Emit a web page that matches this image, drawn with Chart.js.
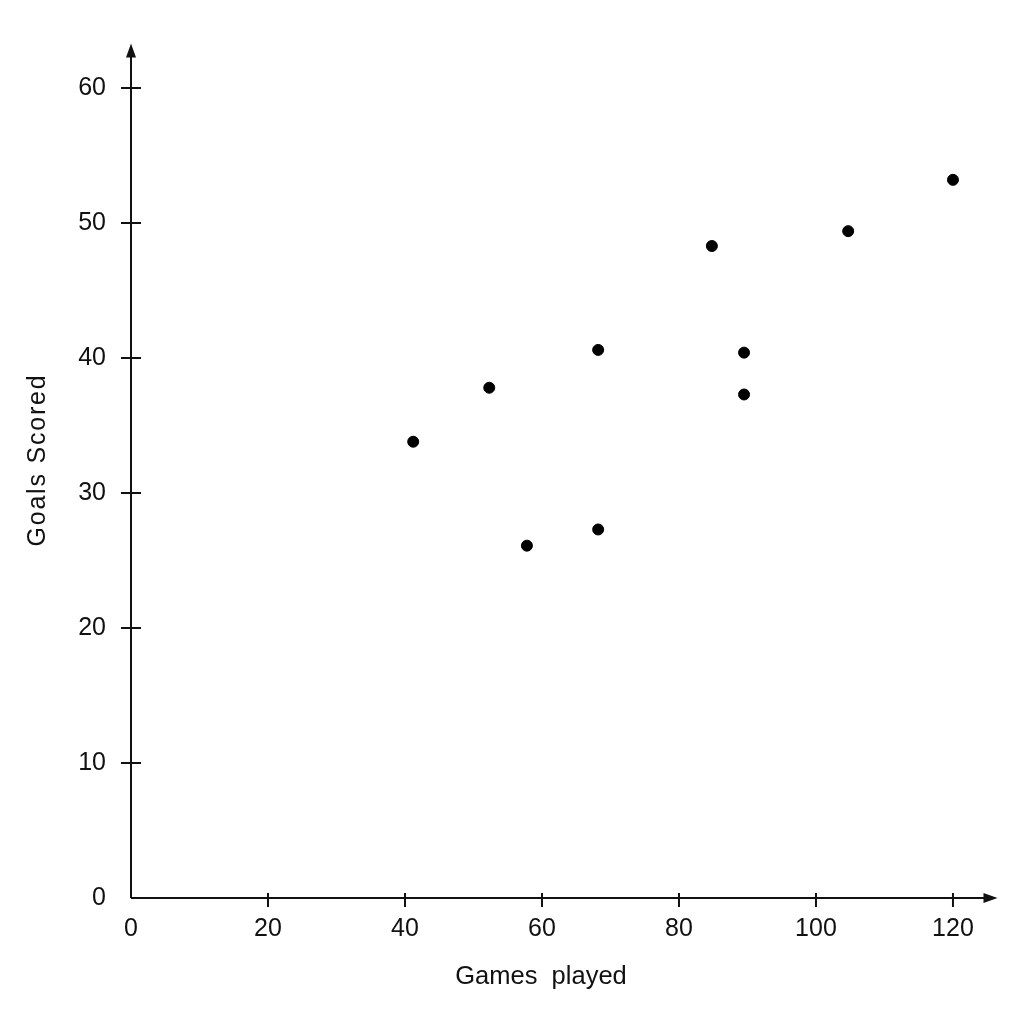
<!DOCTYPE html>
<html>
<head>
<meta charset="utf-8">
<script src="https://cdn.jsdelivr.net/npm/chart.js@4/dist/chart.umd.min.js"></script>
<style>
  html, body { margin: 0; padding: 0; background: #fff; }
  #wrap { width: 1024px; height: 1024px; }
</style>
</head>
<body>
<div id="wrap"><canvas id="c" width="1024" height="1024"></canvas></div>
<script>
// data
const gamesPlayed = [41.2, 52.3, 57.8, 68.2, 68.2, 84.8, 89.5, 89.5, 104.7, 120];
const goalsScored = [33.8, 37.8, 26.1, 40.6, 27.3, 48.3, 40.4, 37.3, 49.4, 53.2];
const xTicks = [0, 20, 40, 60, 80, 100, 120];
const yTicks = [0, 10, 20, 30, 40, 50, 60];
const xTitle = "Games  played";
const yTitle = "Goals Scored";

const FONT = "'Liberation Sans', Arial, sans-serif";

// axes with arrow heads, crossing tick marks and the two axis titles
const axesPlugin = {
  id: "arrowAxes",
  afterDraw(chart) {
    const ctx = chart.ctx, xs = chart.scales.x, ys = chart.scales.y;
    const a = chart.chartArea;
    const x0 = xs.getPixelForValue(0), y0 = ys.getPixelForValue(0);
    ctx.save();
    ctx.strokeStyle = "#111";
    ctx.fillStyle = "#111";
    ctx.lineWidth = 2;
    ctx.beginPath();
    ctx.moveTo(x0, y0); ctx.lineTo(a.right - 4, y0);
    ctx.moveTo(x0, y0); ctx.lineTo(x0, a.top + 4);
    ctx.stroke();
    ctx.beginPath();
    ctx.moveTo(a.right, y0); ctx.lineTo(a.right - 14, y0 - 5); ctx.lineTo(a.right - 14, y0 + 5); ctx.closePath();
    ctx.moveTo(x0, a.top); ctx.lineTo(x0 - 5, a.top + 14); ctx.lineTo(x0 + 5, a.top + 14); ctx.closePath();
    ctx.fill();
    ctx.beginPath();
    xTicks.filter(v => v !== 0).forEach(v => {
      const px = xs.getPixelForValue(v);
      ctx.moveTo(px, y0 - 5); ctx.lineTo(px, y0 + 9);
    });
    yTicks.filter(v => v !== 0).forEach(v => {
      const py = ys.getPixelForValue(v);
      ctx.moveTo(x0 - 10, py); ctx.lineTo(x0 + 10, py);
    });
    ctx.stroke();

    // titles
    ctx.textAlign = "center";
    ctx.textBaseline = "middle";
    ctx.font = "25.5px " + FONT;
    ctx.fillText(xTitle, 541, 977);
    ctx.translate(38, 460);
    ctx.rotate(-Math.PI / 2);
    ctx.font = "25px " + FONT;
    ctx.letterSpacing = "1.8px";
    ctx.fillText(yTitle, 0, 0);
    ctx.restore();
  }
};

const bgPlugin = {
  id: "bg",
  beforeDraw(chart) {
    const ctx = chart.ctx;
    ctx.save();
    ctx.fillStyle = "#fff";
    ctx.fillRect(0, 0, chart.width, chart.height);
    ctx.restore();
  }
};

new Chart(document.getElementById("c"), {
  type: "scatter",
  data: {
    datasets: [{
      data: gamesPlayed.map((g, i) => ({ x: g, y: goalsScored[i] })),
      backgroundColor: "#000",
      borderColor: "#000",
      pointRadius: 5.5,
      pointHoverRadius: 5.5
    }]
  },
  options: {
    responsive: false,
    animation: false,
    devicePixelRatio: 1,
    layout: { padding: { left: 0, right: 26.5, top: 43.5, bottom: 0 } },
    plugins: { legend: { display: false }, tooltip: { enabled: false } },
    scales: {
      x: {
        type: "linear", min: 0, max: 126.5,
        grid: { display: false }, border: { display: false },
        afterBuildTicks: s => { s.ticks = xTicks.map(v => ({ value: v })); },
        afterFit: s => { s.height = 126; },
        ticks: { color: "#111", padding: 8, maxRotation: 0, font: { family: FONT, size: 25 } }
      },
      y: {
        type: "linear", min: 0, max: 63.3,
        grid: { display: false }, border: { display: false },
        afterBuildTicks: s => { s.ticks = yTicks.map(v => ({ value: v })); },
        afterFit: s => { s.width = 131; },
        ticks: { color: "#111", padding: 17, font: { family: FONT, size: 25 } }
      }
    }
  },
  plugins: [bgPlugin, axesPlugin]
});
</script>
</body>
</html>
